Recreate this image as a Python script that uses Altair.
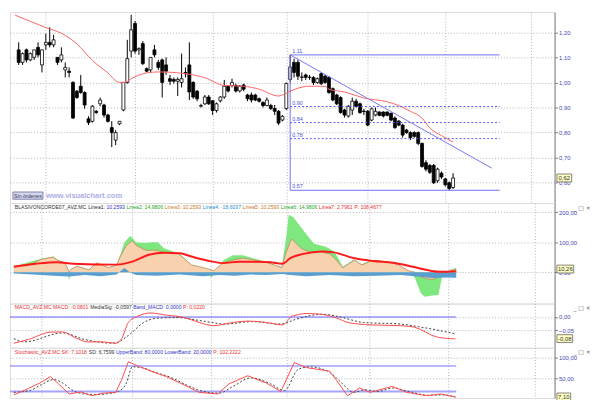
import altair as alt
import pandas as pd

# ------------------------------------------------------------------ candles
OPEN = [1.13, 1.08, 1.13, 1.09, 1.10, 1.14, 1.07, 1.15, 1.16, 1.15,
        1.10, 1.09, 1.05, 1.045, 1.00, 0.965, 0.985, 0.96, 0.855, 0.845,
        0.885, 0.915, 0.91, 0.87, 0.82, 0.77, 0.835, 0.89, 1.00, 1.125,
        1.235, 1.13, 1.155, 1.055, 1.05, 1.13, 1.08, 1.09, 1.07, 1.015,
        1.012, 1.005, 1.00, 1.04, 1.07, 1.00, 0.965, 0.905, 0.915, 0.942,
        0.927, 0.888, 0.927, 0.942, 0.985, 0.988, 0.988, 0.966, 0.99, 0.95,
        0.95, 0.95, 0.935, 0.92, 0.908, 0.908, 0.896, 0.885, 0.85, 0.896,
        1.012, 1.08, 1.08, 1.02, 1.03, 1.02, 1.02, 1.00, 1.035, 1.025,
        1.02, 0.975, 0.95, 0.94, 0.89, 0.866, 0.89, 0.925, 0.915, 0.886,
        0.885, 0.85, 0.87, 0.882, 0.882, 0.882, 0.877, 0.858, 0.846, 0.83,
        0.81, 0.80, 0.80, 0.80, 0.757, 0.68, 0.669, 0.669, 0.608, 0.638,
        0.615, 0.60, 0.581]
HIGH = [1.16, 1.12, 1.135, 1.12, 1.13, 1.16, 1.13, 1.195, 1.22, 1.19,
        1.10, 1.14, 1.08, 1.06, 1.005, 0.97, 1.03, 0.965, 0.865, 0.91,
        0.89, 0.94, 0.915, 0.875, 0.846, 0.81, 0.845, 1.00, 1.17, 1.27,
        1.245, 1.14, 1.165, 1.06, 1.10, 1.15, 1.09, 1.095, 1.10, 1.03,
        1.02, 1.02, 1.115, 1.06, 1.16, 1.005, 0.97, 0.915, 0.95, 0.95,
        0.93, 0.92, 0.945, 1.01, 0.99, 1.015, 0.995, 0.99, 0.995, 0.955,
        0.96, 0.955, 0.94, 0.925, 0.94, 0.915, 0.91, 0.89, 0.87, 1.00,
        1.11, 1.095, 1.09, 1.04, 1.035, 1.03, 1.025, 1.02, 1.04, 1.03,
        1.025, 0.98, 0.955, 0.945, 0.895, 0.91, 0.94, 0.935, 0.92, 0.895,
        0.89, 0.90, 0.90, 0.885, 0.885, 0.885, 0.88, 0.865, 0.85, 0.835,
        0.815, 0.805, 0.805, 0.805, 0.76, 0.69, 0.675, 0.675, 0.66, 0.645,
        0.62, 0.605, 0.638]
LOW = [1.07, 1.07, 1.08, 1.085, 1.09, 1.10, 1.04, 1.13, 1.14, 1.14,
       1.07, 1.08, 1.02, 1.02, 0.855, 0.935, 0.955, 0.895, 0.83, 0.84,
       0.875, 0.905, 0.86, 0.84, 0.742, 0.75, 0.83, 0.885, 0.995, 1.10,
       1.115, 1.11, 1.07, 1.04, 1.04, 1.10, 1.05, 0.94, 1.03, 0.99,
       0.995, 0.946, 0.98, 1.02, 0.93, 0.935, 0.925, 0.90, 0.91, 0.91,
       0.87, 0.88, 0.92, 0.935, 0.96, 0.98, 0.96, 0.96, 0.965, 0.925,
       0.92, 0.925, 0.92, 0.90, 0.905, 0.89, 0.87, 0.83, 0.845, 0.89,
       1.00, 1.02, 1.01, 1.005, 1.01, 1.01, 0.99, 0.995, 0.99, 0.995,
       0.955, 0.925, 0.91, 0.875, 0.86, 0.86, 0.87, 0.90, 0.875, 0.87,
       0.825, 0.845, 0.865, 0.865, 0.86, 0.865, 0.845, 0.815, 0.825, 0.78,
       0.795, 0.77, 0.78, 0.75, 0.66, 0.645, 0.635, 0.595, 0.60, 0.615,
       0.585, 0.569, 0.575]
CLOSE = [1.08, 1.115, 1.09, 1.115, 1.13, 1.11, 1.13, 1.16, 1.15, 1.17,
         1.08, 1.11, 1.06, 1.04, 0.858, 0.94, 0.96, 0.91, 0.84, 0.905,
         0.88, 0.93, 0.87, 0.845, 0.80, 0.80, 0.845, 1.00, 1.095, 1.21,
         1.125, 1.135, 1.075, 1.045, 1.10, 1.11, 1.06, 1.00, 1.045, 1.005,
         1.005, 1.012, 1.015, 1.035, 0.962, 0.942, 0.935, 0.908, 0.942, 0.915,
         0.888, 0.915, 0.942, 0.985, 0.966, 1.00, 0.966, 0.985, 0.973, 0.935,
         0.93, 0.93, 0.925, 0.908, 0.93, 0.896, 0.885, 0.838, 0.865, 0.996,
         1.062, 1.04, 1.025, 1.022, 1.02, 1.021, 1.00, 1.015, 0.995, 1.00,
         0.96, 0.93, 0.915, 0.88, 0.87, 0.905, 0.925, 0.905, 0.88, 0.884,
         0.83, 0.895, 0.885, 0.869, 0.866, 0.869, 0.85, 0.82, 0.83, 0.79,
         0.80, 0.78, 0.785, 0.757, 0.665, 0.654, 0.642, 0.60, 0.654, 0.623,
         0.592, 0.577, 0.619]

# moving average (red) on the price panel
MA_IDX = [-0.98, 7, 11, 15, 19, 23, 26, 27, 30, 33, 36, 43, 48, 53, 58, 62,
          67, 70, 72, 75, 79, 80, 84, 89, 95, 98, 101, 104, 106, 109, 112]
MA_VAL = [1.269, 1.219, 1.196, 1.154, 1.088, 1.038, 1.000, 1.000, 1.023, 1.038,
          1.042, 1.035, 1.019, 0.988, 0.985, 0.973, 0.946, 0.965, 0.977, 0.985,
          0.985, 0.973, 0.962, 0.938, 0.923, 0.908, 0.885, 0.858, 0.819, 0.788, 0.762]

# retracement drawing
FIB_LEVEL = [1.11, 0.904, 0.84, 0.776, 0.57]
FIB_LABEL = ["1.11", "0.90", "0.84", "0.78", "0.57"]
FIB_SOLID = [True, False, False, False, True]
FIB_FROM, FIB_TO = 70, 124
TREND_IDX = [70, 122]
TREND_VAL = [1.11, 0.658]
LAST_PRICE = 0.619

# ------------------------------------------------------------------ indicator panel
RED2_IDX = [0, 11, 15, 26, 30, 34, 38, 42, 45, 50, 53, 57, 64, 68, 70, 73, 78,
            81, 86, 91, 96, 101, 105, 108, 112]
RED2_VAL = [18, 33, 28, 25, 35, 57, 65, 63, 52, 36, 30, 35, 34, 28, 47, 60, 69,
            66, 47, 37, 31, 18, 6, 1, 3]
ORG_IDX = [0, 4, 7, 10, 11, 13, 14, 14.5, 16, 19, 21, 24, 26, 27, 28.5, 30, 31,
           33.4, 36, 38, 41.5, 43, 45, 48, 50.6, 53, 55.5, 58, 61, 64.6, 67.8, 69,
           70.3, 72.7, 75.2, 77.6, 80.1, 81.3, 83.3, 85, 86.2, 88.2, 90, 92.4, 94.8,
           97.3, 99.8, 101.5, 103.4, 105.9, 107.9, 109.6, 112]
ORG_VAL = [20, 24, 43, 50, 40, 30, 0, 10, 20, 8, 31, 15, 24, 53, 89, 105, 89,
           73, 73, 66, 63, 47, 24, 15, 5, 31, 40, 47, 40, 30, 15, 69,
           111, 80, 65, 68, 60, 45, 15, 30, 40, 24, 35, 38, 33,
           25, 5, 0, -18, -25, -15, 0, 10]
GRN_IDX = [0, 7, 10, 11, 13, 14, 14.5, 16, 19, 21, 24, 26, 27, 28, 29.5, 31, 33,
           35, 36.5, 38, 41, 43, 45, 48, 50, 51.5, 53, 55.5, 58, 61, 64.6, 67.8,
           69, 69.6, 70.8, 72.7, 73.6, 76, 79, 81, 82, 83.3, 85, 86, 88, 90, 92,
           95, 97, 99.8, 101.5, 103, 104, 106, 107.5, 108.5, 110, 112]
GRN_VAL = [20, 45, 52, 42, 32, -27, 5, 20, 8, 31, 15, 24, 60, 100, 121, 100, 97,
           100, 100, 80, 66, 50, 24, 15, -18, 5, 40, 56, 56, 45, 32, 15,
           120, 192, 182, 150, 134, 95, 85, 70, 50, 18, 32, 42, 26, 37, 40,
           34, 26, 5, -18, -70, -82, -78, -76, -10, 5, 15]
BLU_IDX = [0, 5, 10, 14, 18, 22, 26, 28, 29.5, 31, 36, 42, 48, 52, 56, 60, 64,
           68, 70, 74, 80, 86, 92, 98, 102, 106, 110, 112]
BLU_VAL = [-5, -8, -12, -15, -10, -14, -8, 14, -2, -10, -12, -8, -14, -10, -12,
           -8, -10, -6, -10, -14, -10, -14, -12, -10, -15, -20, -18, -19]
IND_LAST = 10.26

# ------------------------------------------------------------------ MACD panel
MACD_IDX = [0, 3.7, 9.3, 12.3, 15.5, 18.7, 22.6, 25.8, 27.3, 29, 31.4, 34.6, 38.6,
            43.2, 46.9, 50.6, 55.5, 59.2, 63.9, 68, 70.5, 74.2, 77.9, 81.8, 84.5,
            90.2, 97.8, 101.5, 107.1, 111.8]
MACD_VAL = [-0.097, -0.083, -0.056, -0.055, -0.076, -0.092, -0.092, -0.097, -0.080,
            -0.020, 0.003, 0.015, 0.007, -0.002, -0.020, -0.032, -0.020, -0.015,
            -0.020, -0.029, 0.003, 0.013, 0.010, -0.004, -0.020, -0.029, -0.032,
            -0.038, -0.074, -0.081]
SIG_IDX = [0, 2.7, 12.3, 17.9, 25.3, 29, 32.9, 36.6, 41.3, 47.9, 53.6, 60.2,
           67.6, 71.5, 77.9, 81.8, 88.5, 97.8, 102.5, 111.8]
SIG_VAL = [-0.080, -0.092, -0.059, -0.083, -0.097, -0.068, -0.020, -0.004, -0.002,
           -0.015, -0.026, -0.017, -0.026, -0.008, 0.010, 0.003, -0.020, -0.026,
           -0.036, -0.062]
MACD_LAST = -0.08

# ------------------------------------------------------------------ stochastic panel
SK_IDX = [0, 3.7, 6.6, 9.3, 11.3, 14, 17, 19.7, 22.6, 25.8, 27.3, 29, 31.4, 34.6,
          38.6, 43.2, 46.9, 51.6, 54.5, 59.2, 63.9, 67.6, 71, 74.2, 79.9, 81.8,
          84.5, 87.5, 90.2, 95.8, 99.5, 104.4, 108.1, 111.8]
SK_VAL = [12, 27, 40, 55, 38, 14, 19, 10, 16, 18, 48, 90, 80, 68, 55, 35, 18, 14,
          38, 57, 40, 20, 88, 76, 68, 45, 10, 28, 18, 32, 18, 10, 14, 7]
SD_IDX = [0, 4, 7, 10, 12, 15, 18, 21, 24, 26.5, 28.5, 30, 32.5, 35.5, 40, 44, 48,
          52, 55.5, 60, 65, 68.5, 72, 75, 80, 83, 86, 89, 92, 96, 100, 105, 108.5,
          111.8]
SD_VAL = [18, 22, 36, 48, 42, 22, 14, 13, 15, 20, 40, 78, 76, 66, 52, 34, 20, 16,
          32, 52, 38, 22, 72, 78, 65, 40, 18, 24, 20, 28, 20, 11, 12, 7]
BANDS = [80, 20]
STO_LAST = 7.10

# ------------------------------------------------------------------ layout helpers
SX = 592 / 600
SY = 392 / 400
W = 553
H_MAIN, H_IND, H_MACD, H_STO = 194, 102, 45, 51
X_DOM = [-0.98, 136.9]
MONTH_GRID = [7, 30, 50, 69, 90, 110, 132]
FONT = "Liberation Sans"
GRID = "#b4b4b4"
AXIS_BLUE = "#4848b4"
RED = "#e83030"
DARK = "#303030"
BLUE_TXT = "#3434c8"
ONE = pd.DataFrame({"k": [0]})

AW = {" ": .278, ",": .278, ".": .278, ":": .278, "-": .333, "_": .556,
      "A": .667, "B": .667, "C": .722, "D": .722, "E": .667, "I": .278, "L": .556,
      "M": .833, "N": .722, "O": .778, "P": .667, "R": .722, "S": .667, "U": .722,
      "V": .667, "Z": .611, "K": .667, "G": .778,
      "a": .556, "c": .5, "d": .556, "e": .556, "h": .556, "i": .222, "n": .556,
      "o": .556, "p": .556, "r": .333, "s": .5, "t": .278, "w": .722, "g": .556}


def tw(s, size):
    return sum(AW.get(ch, 0.556) for ch in s) * size


def xscale():
    return alt.Scale(domain=X_DOM, nice=False, zero=False)


def xaxis():
    return alt.Axis(values=MONTH_GRID, labels=False, ticks=False, domain=False,
                    title=None, grid=True, gridDash=[1, 2], gridColor=GRID)


def xf(field):
    return alt.X(field, type="quantitative", scale=xscale(), axis=xaxis())


def xd(v):
    return alt.XDatum(v, type="quantitative", scale=xscale(), axis=xaxis())


def yscale(dom):
    return alt.Scale(domain=dom, nice=False, zero=False)


def yaxis(vals):
    return alt.Axis(orient="right", values=vals, title=None, grid=True,
                    gridDash=[1, 2], gridColor=GRID,
                    labelExpr="replace(format(datum.value, '.2f'), '.', ',')",
                    labelFont=FONT, labelFontSize=6, labelColor=AXIS_BLUE,
                    tickColor="#808080", tickSize=3, domainColor="#808080",
                    labelPadding=1)


def yf(field, dom, vals):
    return alt.Y(field, type="quantitative", scale=yscale(dom), axis=yaxis(vals))


def yd(v, dom, vals):
    return alt.YDatum(v, type="quantitative", scale=yscale(dom), axis=yaxis(vals))


def header(segs, y, size=5.2, x0=5 * SX, gap=0.0):
    out = []
    x = x0
    for txt, col in segs:
        out.append(alt.Chart(ONE).mark_text(text=txt, align="left", baseline="middle",
                                            fontSize=size, font=FONT, color=col)
                   .encode(x=alt.value(x), y=alt.value(y)))
        x += tw(txt + " ", size) + gap
    return out


def value_box(txt, val, dom, vals, wpx):
    half_h = 4.0 / (wpx / 2.0)
    path = f"M-1,-{half_h:.3f}H1V{half_h:.3f}H-1Z"
    xpx = (563 + wpx / 2.0) * SX
    box = alt.Chart(ONE).mark_point(shape=path, filled=True, fill="#ffffc4", stroke="#505050",
                                    strokeWidth=0.7, opacity=1, size=wpx * wpx).encode(
        x=alt.value(xpx), y=yd(val, dom, vals))
    t = alt.Chart(ONE).mark_text(text=txt, fontSize=6, font=FONT, color=DARK).encode(
        x=alt.value(xpx), y=yd(val, dom, vals))
    return [box, t]


def icons(y):
    return [alt.Chart(ONE).mark_text(text="_ □ ×", align="left", baseline="middle",
                                     fontSize=6, font="DejaVu Sans", color="#606060")
            .encode(x=alt.value(580 * SX), y=alt.value(y))]


# ------------------------------------------------------------------ price panel
DOM_P = [0.519, 1.281]
VAL_P = [0.6, 0.7, 0.8, 0.9, 1.0, 1.1, 1.2]
cd = pd.DataFrame({"i": range(len(OPEN)), "open": OPEN, "high": HIGH, "low": LOW, "close": CLOSE})
up = cd[cd.close >= cd.open]
dn = cd[cd.close < cd.open]

wicks = alt.Chart(cd).mark_rule(color="black", strokeWidth=1).encode(
    x=xf("i"), y=yf("low", DOM_P, VAL_P), y2="high")
up_b = alt.Chart(up).mark_bar(size=3, fill="white", stroke="black", strokeWidth=0.8).encode(
    x=xf("i"), y=yf("open", DOM_P, VAL_P), y2="close")
dn_b = alt.Chart(dn).mark_bar(size=3, fill="black", stroke="black", strokeWidth=0.8).encode(
    x=xf("i"), y=yf("open", DOM_P, VAL_P), y2="close")
ma = alt.Chart(pd.DataFrame({"i": MA_IDX, "v": MA_VAL})).mark_line(
    color="#ff6464", strokeWidth=1, interpolate="monotone").encode(
    x=xf("i"), y=yf("v", DOM_P, VAL_P))

fib = pd.DataFrame({"level": FIB_LEVEL, "label": FIB_LABEL, "solid": FIB_SOLID})
fib_solid = alt.Chart(fib[fib.solid]).mark_rule(color="#7070f0", strokeWidth=1).encode(
    x=xd(FIB_FROM), x2=alt.X2Datum(FIB_TO), y=yf("level", DOM_P, VAL_P))
fib_dash = alt.Chart(fib[~fib.solid]).mark_rule(color="#5a5af0", strokeWidth=1,
                                                 strokeDash=[2, 2]).encode(
    x=xd(FIB_FROM), x2=alt.X2Datum(FIB_TO), y=yf("level", DOM_P, VAL_P))
fib_vert = alt.Chart(ONE).mark_rule(color="#7070f0", strokeWidth=1).encode(
    x=xd(FIB_FROM), y=yd(FIB_LEVEL[0], DOM_P, VAL_P), y2=alt.Y2Datum(FIB_LEVEL[-1]))
fib_txt = alt.Chart(fib).mark_text(align="left", baseline="bottom", dx=2, dy=-1,
                                   fontSize=5.5, font=FONT, color="#5050d0").encode(
    x=xd(FIB_FROM), y=yf("level", DOM_P, VAL_P), text="label")
trend = alt.Chart(pd.DataFrame({"i": TREND_IDX, "v": TREND_VAL})).mark_line(
    color="#7878f0", strokeWidth=1).encode(x=xf("i"), y=yf("v", DOM_P, VAL_P))

sin_box = alt.Chart(ONE).mark_rect(fill="#d4d8ea", stroke="#6a6a9a", strokeWidth=0.8).encode(
    x=alt.value(3 * SX), x2=alt.value(34 * SX), y=alt.value(186.5 * SY), y2=alt.value(194 * SY))
sin_txt = alt.Chart(ONE).mark_text(text="Sin órdenes", fontSize=5.3, font=FONT,
                                   color="#303060").encode(
    x=alt.value(18.5 * SX), y=alt.value(190.5 * SY))
web = alt.Chart(ONE).mark_text(text="www.visualchart.com", align="left", fontSize=7.6,
                               fontWeight="bold", font=FONT, color="#aeaee6").encode(
    x=alt.value(37 * SX), y=alt.value(190.5 * SY))

main = alt.layer(wicks, up_b, dn_b, ma, fib_solid, fib_dash, fib_vert, trend, fib_txt,
                 sin_box, sin_txt, web,
                 *value_box("0,62", LAST_PRICE, DOM_P, VAL_P, 15)).properties(
    width=W, height=H_MAIN)

# ------------------------------------------------------------------ indicator panel
DOM_I = [-104.8, 230.6]
VAL_I = [0, 100, 200]
g_area = alt.Chart(pd.DataFrame({"i": GRN_IDX, "v": GRN_VAL})).mark_area(
    color="#7ee87e", opacity=1).encode(x=xf("i"), y=yf("v", DOM_I, VAL_I), y2=alt.Y2Datum(0))
o_area = alt.Chart(pd.DataFrame({"i": ORG_IDX, "v": ORG_VAL})).mark_area(
    color="#f8d2ae", opacity=1).encode(x=xf("i"), y=yf("v", DOM_I, VAL_I), y2=alt.Y2Datum(0))
o_line = alt.Chart(pd.DataFrame({"i": ORG_IDX, "v": ORG_VAL})).mark_line(
    color="#b88a5a", strokeWidth=0.8).encode(x=xf("i"), y=yf("v", DOM_I, VAL_I))
b_area = alt.Chart(pd.DataFrame({"i": BLU_IDX, "v": BLU_VAL})).mark_area(
    color="#5a9ed0", opacity=1).encode(x=xf("i"), y=yf("v", DOM_I, VAL_I), y2=alt.Y2Datum(0))
r_line = alt.Chart(pd.DataFrame({"i": RED2_IDX, "v": RED2_VAL})).mark_line(
    color="#ff1a1a", strokeWidth=2, interpolate="monotone").encode(
    x=xf("i"), y=yf("v", DOM_I, VAL_I))

IND_HEADER = [("BLASIVONCORDE07_AVZ.MC", DARK), ("Linea1:", DARK), ("10,2593", BLUE_TXT),
              ("Linea2: 14,9806", "#22a622"), ("Linea3: 10,2593", "#c8782a"),
              ("Linea4: -18,6037", "#2a8ec8"), ("Linea5: 10,2593", "#c8782a"),
              ("Linea6: 14,9806", "#22a622"), ("Linea7: 2,7961", RED),
              ("P: 108,4677", RED)]
ind = alt.layer(g_area, o_area, o_line, b_area, r_line, *header(IND_HEADER, 4.5),
                *icons(5), *value_box("10,26", IND_LAST, DOM_I, VAL_I, 17)).properties(
    width=W, height=H_IND)

# ------------------------------------------------------------------ MACD panel
DOM_M = [-0.114, 0.05]
VAL_M = [0, -0.05]
zero = alt.Chart(ONE).mark_rule(color="#6464ff", strokeWidth=1.2).encode(
    x=xd(X_DOM[0]), x2=alt.X2Datum(112), y=yd(0, DOM_M, VAL_M))
sig = alt.Chart(pd.DataFrame({"i": SIG_IDX, "v": SIG_VAL})).mark_line(
    color="#404040", strokeWidth=1, strokeDash=[2, 2], interpolate="monotone").encode(
    x=xf("i"), y=yf("v", DOM_M, VAL_M))
macd = alt.Chart(pd.DataFrame({"i": MACD_IDX, "v": MACD_VAL})).mark_line(
    color="#ff4a4a", strokeWidth=1, interpolate="monotone").encode(
    x=xf("i"), y=yf("v", DOM_M, VAL_M))
MACD_HEADER = [("MACD_AVZ.MC MACD: -0,0801", RED), ("MediaSig: -0,0597", DARK),
               ("Band_MACD: 0,0000", BLUE_TXT), ("P: 0,0220", RED)]
macd_p = alt.layer(zero, sig, macd, *header(MACD_HEADER, 4), *icons(4.5),
                   *value_box("-0,08", MACD_LAST, DOM_M, VAL_M, 16)).properties(
    width=W, height=H_MACD)

# ------------------------------------------------------------------ stochastic panel
DOM_S = [4.5, 122.7]
VAL_S = [50, 100]
band_hi = alt.Chart(ONE).mark_rule(color="#7070ff", strokeWidth=1).encode(
    x=xd(X_DOM[0]), x2=alt.X2Datum(112), y=yd(BANDS[0], DOM_S, VAL_S))
band_lo = alt.Chart(ONE).mark_rule(color="#a4a4ff", strokeWidth=2).encode(
    x=xd(X_DOM[0]), x2=alt.X2Datum(112), y=yd(BANDS[1], DOM_S, VAL_S))
sd = alt.Chart(pd.DataFrame({"i": SD_IDX, "v": SD_VAL})).mark_line(
    color="#404040", strokeWidth=1, strokeDash=[2, 2], interpolate="monotone", clip=True).encode(
    x=xf("i"), y=yf("v", DOM_S, VAL_S))
sk = alt.Chart(pd.DataFrame({"i": SK_IDX, "v": SK_VAL})).mark_line(
    color="#ff4a4a", strokeWidth=1, clip=True).encode(
    x=xf("i"), y=yf("v", DOM_S, VAL_S))
STO_HEADER = [("Stochastic_AVZ.MC SK: 7,1018", RED), ("SD: 6,7599", DARK),
              ("UpperBand: 80,0000 LowerBand: 20,0000", BLUE_TXT), ("P: 102,2222", RED)]
sto = alt.layer(band_hi, band_lo, sd, sk, *header(STO_HEADER, 4), *icons(4.5),
                *value_box("7,10", STO_LAST, DOM_S, VAL_S, 14)).properties(
    width=W, height=H_STO)

chart = alt.vconcat(main, ind, macd_p, sto, spacing=0, bounds="flush").properties(
    padding=0).configure_view(stroke="#8c8c8c", strokeWidth=1).configure(
    background="white")

chart.save("out.html", embed_options={"renderer": "svg", "actions": False})
